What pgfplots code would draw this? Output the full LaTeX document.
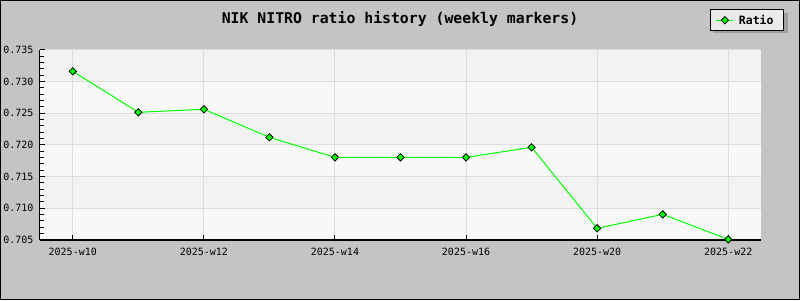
\documentclass[border=0pt]{standalone}
\usepackage{pgfplots}
\pgfplotsset{compat=1.18}
\usepackage{fontspec}
\setmainfont{DejaVu Sans Mono}
\definecolor{bg}{HTML}{C4C4C4}
\definecolor{bandA}{HTML}{F8F8F8}
\definecolor{bandB}{HTML}{F2F2F2}
\definecolor{gridc}{HTML}{DCDCDC}
\definecolor{lineg}{HTML}{00FF00}
\definecolor{legbg}{HTML}{EBEBEB}
\definecolor{shadowc}{HTML}{A0A0A0}
\begin{document}
\begin{tikzpicture}
\useasboundingbox (0pt,0pt) rectangle (800pt,300pt);
\fill[bg] (0pt,0pt) rectangle (800pt,300pt);
\draw[black,line width=1pt] (0.5pt,0.5pt) rectangle (799.5pt,299.5pt);
\fill[bandA] (40pt,60pt) rectangle (761pt,91.667pt);
\fill[bandB] (40pt,91.667pt) rectangle (761pt,123.333pt);
\fill[bandA] (40pt,123.333pt) rectangle (761pt,155pt);
\fill[bandB] (40pt,155pt) rectangle (761pt,186.667pt);
\fill[bandA] (40pt,186.667pt) rectangle (761pt,218.333pt);
\fill[bandB] (40pt,218.333pt) rectangle (761pt,250pt);
\fill[shadowc] (713pt,266.7pt) rectangle (788pt,286.7pt);
\node[font=\bfseries\fontsize{14.8}{16}\selectfont] at (400pt,281pt) {NIK NITRO ratio history (weekly markers)};
\begin{axis}[
  at={(40pt,60pt)}, anchor=south west, scale only axis,
  width=721pt, height=190pt,
  xmin=-0.5, xmax=10.5, ymin=0.705, ymax=0.735,
  axis x line*=bottom, axis y line*=left,
  axis line style={black, line width=1pt, -},
  xtick={0,2,4,6,8,10},
  xticklabels={2025-w10,2025-w12,2025-w14,2025-w16,2025-w20,2025-w22},
  ytick={0.705,0.710,0.715,0.720,0.725,0.730,0.735},
  yticklabels={0.705,0.710,0.715,0.720,0.725,0.730,0.735},
  minor y tick num=4,
  tick align=inside,
  major tick length=5pt, minor tick length=4pt,
  every tick/.style={black, line width=1pt},
  grid=major, major grid style={gridc, line width=1pt},
  ticklabel style={font=\fontsize{10}{12}\selectfont},
  yticklabel style={xshift=-3pt},
  xticklabel style={yshift=-5pt},
  clip=false,
  legend style={at={(1.032,1.214)}, anchor=north east, draw=black, line width=1pt,
    fill=legbg, font=\bfseries\fontsize{11.5}{13}\selectfont,
    inner xsep=5pt, inner ysep=3pt, nodes={inner xsep=5pt}},
  legend cell align=left,
]
\addplot[color=lineg, line width=1pt, mark=square*, mark size=2.6pt,
  mark options={rotate=45, fill=lineg, draw=black, line width=0.8pt}]
  coordinates {
  (0,0.73164) (1,0.72516) (2,0.72564) (3,0.72121) (4,0.71805) (5,0.71805)
  (6,0.71805) (7,0.71963) (8,0.70684) (9,0.70905) (10,0.7051)
  };
\addlegendentry{Ratio\hspace{2pt}}
\end{axis}
\end{tikzpicture}
\end{document}
